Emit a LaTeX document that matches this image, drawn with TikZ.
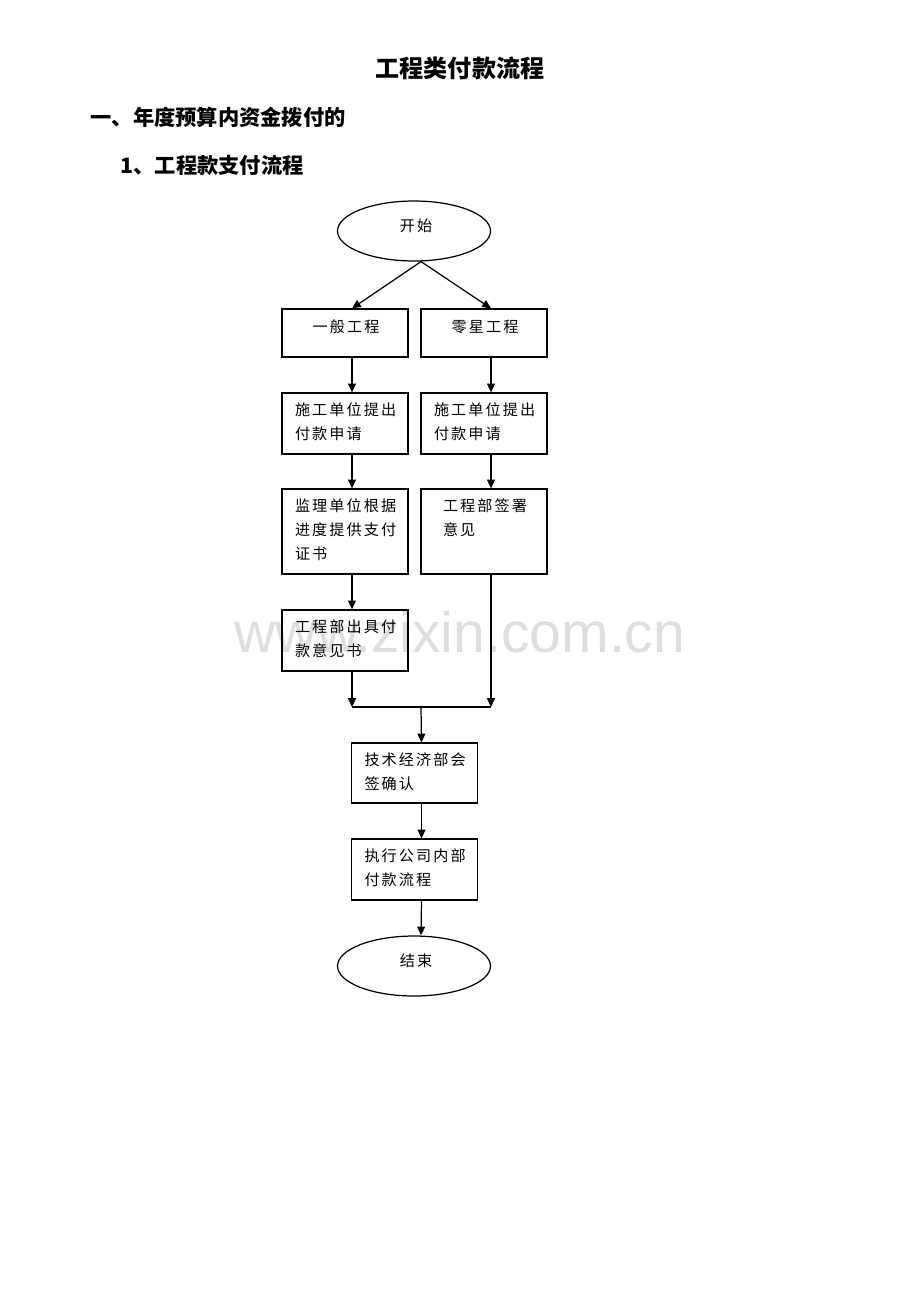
\documentclass[tikz,border=0pt]{standalone}
\usepackage{fontspec}
\newfontfamily\cjk{Noto Sans CJK SC}
\newfontfamily\cjkbox[LetterSpace=14]{Noto Sans CJK SC}
\newfontfamily\wmfont{Liberation Sans}
\usetikzlibrary{arrows.meta,shapes.geometric}
\begin{document}
\begin{tikzpicture}[x=0.02cm,y=-0.02cm,
			>={Triangle[length=5pt,width=4.5pt]},
			line width=0.7pt,
			box/.style={
			shape=rectangle,
			draw,
			minimum width=2.52cm,
			inner sep=0pt},
			term/.style={
			shape=ellipse,
			draw,
			minimum width=3.06cm,
			minimum height=1.2cm,
			inner sep=0pt},
			lbl/.style={
			anchor=north west,
			inner sep=0pt,
			align=left,
			font=\cjkbox\fontsize{8.6}{13.7}\selectfont},
			head/.style={
			anchor=west,
			inner sep=0pt,
			font=\cjk\bfseries\fontsize{12.1}{12.1}\selectfont}]
			\useasboundingbox (0,0) rectangle (920,1302);
			\node [font=\wmfont\fontsize{32.5}{32.5}\selectfont, text=black!13] (wm) at (460,632) {www.zixin.com.cn};
			\node [inner sep=0pt, font=\cjk\bfseries\fontsize{13.7}{13.7}\selectfont] (title) at (460,68) {工程类付款流程};
			\node [head] (h1) at (90,117) {一、年度预算内资金拨付的};
			\node [head] (h2) at (120,165) {1、工程款支付流程};
			\node [term] (v1) at (414,231) {};
			\node [box, minimum height=0.96cm] (v2) at (345,333) {};
			\node [box, minimum height=0.96cm] (v3) at (484,333) {};
			\node [box, minimum height=1.22cm] (v4) at (345,423.5) {};
			\node [box, minimum height=1.22cm] (v5) at (484,423.5) {};
			\node [box, minimum height=1.7cm] (v6) at (345,531.5) {};
			\node [box, minimum height=1.7cm] (v7) at (484,531.5) {};
			\node [box, minimum height=1.22cm] (v8) at (345,640.5) {};
			\node [box, minimum height=1.2cm] (v9) at (414.5,773) {};
			\node [box, minimum height=1.22cm] (v10) at (414.5,869.5) {};
			\node [term] (v11) at (414,966) {};
			\node [lbl, anchor=center] (t1) at (416,226) {开始};
			\node [lbl, anchor=center] (t11) at (416,961) {结束};
			\node [lbl, anchor=center] (t2) at (346,327) {一般工程};
			\node [lbl, anchor=center] (t3) at (485,327) {零星工程};
			\node [lbl] (t4) at ([shift={(13,10)}]v4.north west) {施工单位提出\\付款申请};
			\node [lbl] (t5) at ([shift={(13,10)}]v5.north west) {施工单位提出\\付款申请};
			\node [lbl] (t6) at ([shift={(13,10)}]v6.north west) {监理单位根据\\进度提供支付\\证书};
			\node [lbl] (t7) at ([shift={(22,10)}]v7.north west) {工程部签署\\意见};
			\node [lbl] (t8) at ([shift={(13,10)}]v8.north west) {工程部出具付\\款意见书};
			\node [lbl] (t9) at ([shift={(13,10)}]v9.north west) {技术经济部会\\签确认};
			\node [lbl] (t10) at ([shift={(13,10)}]v10.north west) {执行公司内部\\付款流程};
			\coordinate (s) at ([shift={(7,0)}]v1.south);
			\coordinate (j1) at (352,707);
			\coordinate (j2) at (491,707);
			\coordinate (j3) at (421,707);
			\draw [->] (s) -- ([shift={(7,0)}]v2.north);
			\draw [->] (s) -- ([shift={(7,0)}]v3.north);
			\draw [->] ([shift={(7,0)}]v2.south) -- ([shift={(7,0)}]v4.north);
			\draw [->] ([shift={(7,0)}]v3.south) -- ([shift={(7,0)}]v5.north);
			\draw [->] ([shift={(7,0)}]v4.south) -- ([shift={(7,0)}]v6.north);
			\draw [->] ([shift={(7,0)}]v5.south) -- ([shift={(7,0)}]v7.north);
			\draw [->] ([shift={(7,0)}]v6.south) -- ([shift={(7,0)}]v8.north);
			\draw [->] ([shift={(7,0)}]v8.south) -- (j1);
			\draw [->] ([shift={(7,0)}]v7.south) -- (j2);
			\draw (j1) -- (j2);
			\draw [->] (j3) -- ([shift={(7,0)}]v9.north);
			\draw [->] ([shift={(7,0)}]v9.south) -- ([shift={(7,0)}]v10.north);
			\draw [->] ([shift={(7,0)}]v10.south) -- ([shift={(7,0)}]v11.north);
		\end{tikzpicture}
\end{document}
